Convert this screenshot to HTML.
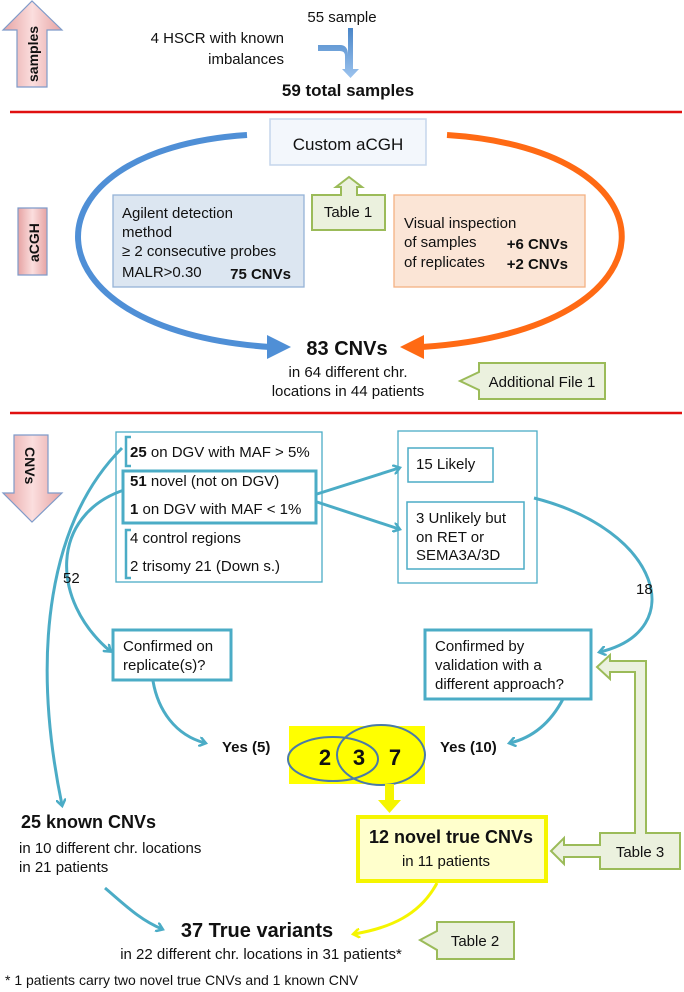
<!DOCTYPE html>
<html><head><meta charset="utf-8"><style>
body{margin:0;background:#fff}
svg{display:block}
text{font-family:"Liberation Sans",sans-serif;fill:#111}
.b{font-weight:bold}
</style></head><body>
<svg width="684" height="992" viewBox="0 0 684 992" xmlns="http://www.w3.org/2000/svg">
<defs>
<linearGradient id="pk" x1="0" y1="0" x2="1" y2="0"><stop offset="0" stop-color="#e6a3a3"/><stop offset="0.5" stop-color="#fbdede"/><stop offset="1" stop-color="#e6a3a3"/></linearGradient>
<linearGradient id="bl" x1="0" y1="0" x2="0" y2="1"><stop offset="0" stop-color="#4a86c8"/><stop offset="1" stop-color="#9cc3ee"/></linearGradient>
<marker id="ta" markerWidth="10" markerHeight="10" refX="6" refY="5" orient="auto" markerUnits="userSpaceOnUse" viewBox="0 0 10 10"><path d="M0,0 L7,5 L0,10" fill="none" stroke="#4bacc6" stroke-width="2.5"/></marker>
<marker id="ya" markerWidth="10" markerHeight="10" refX="6" refY="5" orient="auto" markerUnits="userSpaceOnUse" viewBox="0 0 10 10"><path d="M0,0 L7,5 L0,10" fill="none" stroke="#f5f500" stroke-width="2.5"/></marker>
</defs>

<!-- samples arrow -->
<path d="M17,87 L17,30 L3,30 L32,1 L62,30 L47,30 L47,87 Z" fill="url(#pk)" stroke="#7f9bc9" stroke-width="1.2"/>
<text class="b" transform="translate(38,82) rotate(-90)" font-size="14">samples</text>

<text x="342" y="22" font-size="15" text-anchor="middle">55 sample</text>
<text x="284" y="43" font-size="15" text-anchor="end">4 HSCR with known</text>
<text x="284" y="64" font-size="15" text-anchor="end">imbalances</text>
<path d="M318,45 L340,45 Q348,45 348,55 L348,28 L353,28 L353,69 L359,69 L350.5,78 L342,69 L345,69 L345,56 Q345,51 340,51 L318,51 Z" fill="url(#bl)"/>
<text class="b" x="348" y="96" font-size="17" text-anchor="middle">59 total samples</text>

<line x1="10" y1="112" x2="682" y2="112" stroke="#e01010" stroke-width="2.5"/>

<!-- aCGH section -->
<path d="M18,275 L18,208 L47,208 L47,275 Z" fill="url(#pk)" stroke="#7f9bc9" stroke-width="1.2"/>
<text class="b" transform="translate(39,262) rotate(-90)" font-size="14">aCGH</text>

<rect x="270" y="119" width="156" height="46" fill="#f3f7fc" stroke="#c5d6ec" stroke-width="1.5"/>
<text x="348" y="150" font-size="17" text-anchor="middle" fill="#333">Custom aCGH</text>

<path d="M247,135 C18,150 18,330 270,347" fill="none" stroke="#4f8fd6" stroke-width="6"/>
<path d="M267,335 L291,347 L267,359 Z" fill="#4f8fd6"/>
<path d="M447,135 C684,150 684,330 422,347" fill="none" stroke="#ff6a14" stroke-width="6"/>
<path d="M424,335 L400,347 L424,359 Z" fill="#ff6a14"/>

<rect x="113" y="195" width="191" height="92" fill="#dce6f1" stroke="#95b3d7" stroke-width="1.3"/>
<text x="122" y="218" font-size="15">Agilent detection</text>
<text x="122" y="237" font-size="15">method</text>
<text x="122" y="256" font-size="15">≥ 2 consecutive probes</text>
<text x="122" y="277" font-size="15">MALR&gt;0.30</text>
<text class="b" x="291" y="279" font-size="15" text-anchor="end">75 CNVs</text>

<path d="M312,195 L341,195 L341,187 L336,187 L349,177 L362,187 L357,187 L357,195 L385,195 L385,230 L312,230 Z" fill="#ebf1de" stroke="#9bbb59" stroke-width="2"/>
<text x="348" y="217" font-size="15" text-anchor="middle">Table 1</text>

<rect x="394" y="195" width="191" height="92" fill="#fbe5d6" stroke="#f4b183" stroke-width="1.3"/>
<text x="404" y="228" font-size="15">Visual inspection</text>
<text x="404" y="247" font-size="15">of samples</text>
<text x="404" y="267" font-size="15">of replicates</text>
<text class="b" x="568" y="249" font-size="15" text-anchor="end">+6 CNVs</text>
<text class="b" x="568" y="269" font-size="15" text-anchor="end">+2 CNVs</text>

<text class="b" x="347" y="355" font-size="20" text-anchor="middle">83 CNVs</text>
<text x="348" y="377" font-size="15" text-anchor="middle">in 64 different chr.</text>
<text x="348" y="396" font-size="15" text-anchor="middle">locations in 44 patients</text>

<path d="M479,363 L605,363 L605,399 L479,399 L479,390 L460,381 L479,372 Z" fill="#ebf1de" stroke="#9bbb59" stroke-width="2"/>
<text x="542" y="387" font-size="15" text-anchor="middle">Additional File 1</text>

<line x1="10" y1="413" x2="682" y2="413" stroke="#e01010" stroke-width="2.5"/>

<!-- CNVs section -->
<path d="M14,435 L48,435 L48,493 L62,493 L32,522 L3,493 L14,493 Z" fill="url(#pk)" stroke="#7f9bc9" stroke-width="1.2"/>
<text class="b" transform="translate(25,447) rotate(90)" font-size="14">CNVs</text>

<rect x="116" y="432" width="206" height="150" fill="#fff" stroke="#4bacc6" stroke-width="1.3"/>
<path d="M131,437 L126,437 L126,466 L131,466" fill="none" stroke="#4bacc6" stroke-width="2.5"/>
<text x="130" y="457" font-size="15"><tspan class="b">25</tspan> on DGV with MAF &gt; 5%</text>
<rect x="123" y="471" width="193" height="52" fill="none" stroke="#4bacc6" stroke-width="3"/>
<text x="130" y="486" font-size="15"><tspan class="b">51</tspan> novel (not on DGV)</text>
<text x="130" y="514" font-size="15"><tspan class="b">1</tspan> on DGV with MAF &lt; 1%</text>
<path d="M131,530 L126,530 L126,578 L131,578" fill="none" stroke="#4bacc6" stroke-width="2.5"/>
<text x="130" y="543" font-size="15">4 control regions</text>
<text x="130" y="571" font-size="15">2 trisomy 21 (Down s.)</text>

<rect x="398" y="431" width="139" height="152" fill="#fff" stroke="#4bacc6" stroke-width="1.3"/>
<rect x="408" y="448" width="85" height="34" fill="#fff" stroke="#4bacc6" stroke-width="1.5"/>
<text x="416" y="469" font-size="15">15 Likely</text>
<rect x="407" y="502" width="117" height="67" fill="#fff" stroke="#4bacc6" stroke-width="1.5"/>
<text x="416" y="523" font-size="15">3 Unlikely but</text>
<text x="416" y="542" font-size="15">on RET or</text>
<text x="416" y="560" font-size="15">SEMA3A/3D</text>

<g fill="none" stroke="#4bacc6" stroke-width="3">
<path d="M317,494 L399,468" marker-end="url(#ta)"/>
<path d="M317,502 L399,529" marker-end="url(#ta)"/>
<path d="M534,498 C660,530 690,630 600,652" marker-end="url(#ta)"/>
<path d="M122,448 C50,520 30,650 62,805" marker-end="url(#ta)"/>
<path d="M124,490 C50,515 50,600 110,651" marker-end="url(#ta)"/>
<path d="M153,681 C158,710 175,735 205,743" marker-end="url(#ta)"/>
<path d="M563,699 C552,720 535,737 510,743" marker-end="url(#ta)"/>
<path d="M105,888 C125,905 140,920 162,929" marker-end="url(#ta)"/>
</g>
<text x="63" y="583" font-size="15">52</text>
<text x="636" y="594" font-size="15">18</text>

<rect x="113" y="630" width="118" height="50" fill="#fff" stroke="#4bacc6" stroke-width="3"/>
<text x="123" y="651" font-size="15">Confirmed on</text>
<text x="123" y="670" font-size="15">replicate(s)?</text>

<rect x="425" y="630" width="166" height="69" fill="#fff" stroke="#4bacc6" stroke-width="3"/>
<text x="435" y="651" font-size="15">Confirmed by</text>
<text x="435" y="670" font-size="15">validation with a</text>
<text x="435" y="689" font-size="15">different approach?</text>

<text class="b" x="222" y="752" font-size="15">Yes (5)</text>
<text class="b" x="440" y="752" font-size="15">Yes (10)</text>

<rect x="289" y="726" width="136" height="58" fill="#ffff00"/>
<ellipse cx="333" cy="759" rx="45" ry="22" fill="none" stroke="#4a7aa8" stroke-width="2"/>
<ellipse cx="381" cy="755" rx="44" ry="30" fill="none" stroke="#4a7aa8" stroke-width="2"/>
<text class="b" x="325" y="765" font-size="22" text-anchor="middle">2</text>
<text class="b" x="359" y="765" font-size="22" text-anchor="middle">3</text>
<text class="b" x="395" y="765" font-size="22" text-anchor="middle">7</text>
<path d="M385,784 L394,784 L394,800 L401,800 L389.5,813 L378,800 L385,800 Z" fill="#f5f500"/>

<rect x="358" y="817" width="188" height="64" fill="#ffffcc" stroke="#f5f500" stroke-width="4"/>
<text class="b" x="451" y="843" font-size="18" text-anchor="middle">12 novel true CNVs</text>
<text x="446" y="866" font-size="15" text-anchor="middle">in 11 patients</text>

<path d="M600,833 L635,833 L635,672 L610,672 L610,679 L597,667 L610,655 L610,661 L646,661 L646,833 L680,833 L680,869 L600,869 L600,857 L564,857 L564,864 L551,851 L564,838 L564,845 L600,845 Z" fill="#ebf1de" stroke="#9bbb59" stroke-width="2"/>
<text x="640" y="857" font-size="15" text-anchor="middle">Table 3</text>

<text class="b" x="21" y="828" font-size="18">25 known CNVs</text>
<text x="19" y="853" font-size="15">in 10 different chr. locations</text>
<text x="19" y="872" font-size="15">in 21 patients</text>

<path d="M437,883 C420,915 390,928 354,934" fill="none" stroke="#f5f500" stroke-width="3" marker-end="url(#ya)"/>

<text class="b" x="257" y="937" font-size="20" text-anchor="middle">37 True variants</text>
<text x="261" y="959" font-size="15" text-anchor="middle">in 22 different chr. locations in 31 patients*</text>

<path d="M437,922 L514,922 L514,959 L437,959 L437,950 L420,940 L437,931 Z" fill="#ebf1de" stroke="#9bbb59" stroke-width="2"/>
<text x="475" y="946" font-size="15" text-anchor="middle">Table 2</text>

<text x="5" y="985" font-size="14">* 1 patients carry two novel true CNVs and 1 known CNV</text>
</svg>
</body></html>
